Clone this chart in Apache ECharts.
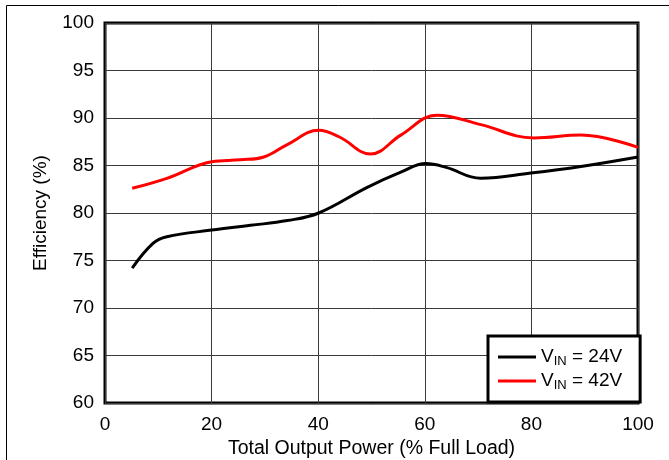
<!DOCTYPE html>
<html>
<head>
<meta charset="utf-8">
<script src="https://cdn.jsdelivr.net/npm/echarts@6/dist/echarts.min.js"></script>
<style>html,body{margin:0;padding:0;background:#fff}#c{width:669px;height:460px}</style>
</head>
<body>
<div id="c"></div>
<script>
const xTicks = [0, 20, 40, 60, 80, 100];
const yTicks = [60, 65, 70, 75, 80, 85, 90, 95, 100];
const vin24 = [[5.1,74.2],[9.0,76.8],[11.6,77.5],[20,78.2],[27.3,78.7],[34.2,79.2],[40.1,80.0],[49.2,82.7],[55.5,84.3],[60.2,85.2],[64,84.8],[70.5,83.65],[79.9,84.2],[89.3,84.9],[100,85.9]];
const vin42 = [[5.1,82.6],[11.6,83.65],[20,85.4],[25.4,85.6],[29.8,85.9],[34.2,87.2],[40.1,88.7],[44,88.0],[49.8,86.2],[55.5,88.2],[62.3,90.3],[70.5,89.3],[80.5,87.9],[89.3,88.2],[100,86.9]];
const names = ['24V', '42V'];

const chart = echarts.init(document.getElementById('c'), null, {renderer: 'canvas'});
const font = 'Liberation Sans, Arial, sans-serif';
chart.setOption({
  animation: false,
  textStyle: {fontFamily: font},
  graphic: [{type: 'rect', shape: {x: 6.5, y: 5.5, width: 700, height: 500}, style: {fill: 'none', stroke: '#000', lineWidth: 1}, silent: true, z: -1}],
  grid: {left: 105, right: 31, top: 23, bottom: 57, show: true, borderColor: '#000', borderWidth: 3, backgroundColor: 'transparent', outerBoundsMode: 'none', containLabel: false},
  xAxis: {
    type: 'value', min: 0, max: 100, interval: 20,
    name: 'Total Output Power (% Full Load)', nameLocation: 'middle', nameGap: 36,
    nameTextStyle: {fontSize: 19.5, color: '#000', fontFamily: font},
    axisLine: {show: false}, axisTick: {show: false},
    axisLabel: {fontSize: 19, color: '#000', margin: 12, fontFamily: font, formatter: v => xTicks.includes(v) ? String(v) : ''},
    splitLine: {show: true, lineStyle: {color: '#3a3a3a', width: 1}}
  },
  yAxis: {
    type: 'value', min: 60, max: 100, interval: 5,
    name: 'Efficiency (%)', nameLocation: 'middle', nameGap: 55,
    nameTextStyle: {fontSize: 19, color: '#000', fontFamily: font},
    axisLine: {show: false}, axisTick: {show: false},
    axisLabel: {fontSize: 19, color: '#000', margin: 11, padding: [8, 0, 0, 0], fontFamily: font, formatter: v => yTicks.includes(v) ? String(v) : ''},
    splitLine: {show: true, lineStyle: {color: '#3a3a3a', width: 1}}
  },
  legend: {
    orient: 'vertical', left: 488, top: 336,
    padding: [10, 18, 10, 10], itemGap: 2,
    backgroundColor: '#fff', borderColor: '#000', borderWidth: 3, borderRadius: 0,
    itemWidth: 38, itemHeight: 3, icon: 'rect',
    formatter: n => '{v|V}{s|IN}{v| = ' + n + '}',
    textStyle: {
      color: '#000', fontFamily: font,
      rich: {
        v: {fontSize: 19, fontFamily: font, color: '#000', lineHeight: 20},
        s: {fontSize: 13, fontFamily: font, color: '#000', padding: [9, 0, 0, 0], lineHeight: 11}
      }
    },
    data: names
  },
  series: [
    {name: names[0], type: 'line', data: vin24, smooth: 0.4, showSymbol: false, lineStyle: {color: '#000', width: 3}, itemStyle: {color: '#000'}, z: 3},
    {name: names[1], type: 'line', data: vin42, smooth: 0.4, showSymbol: false, lineStyle: {color: '#ff0000', width: 3}, itemStyle: {color: '#ff0000'}, z: 3}
  ]
});
</script>
</body>
</html>
